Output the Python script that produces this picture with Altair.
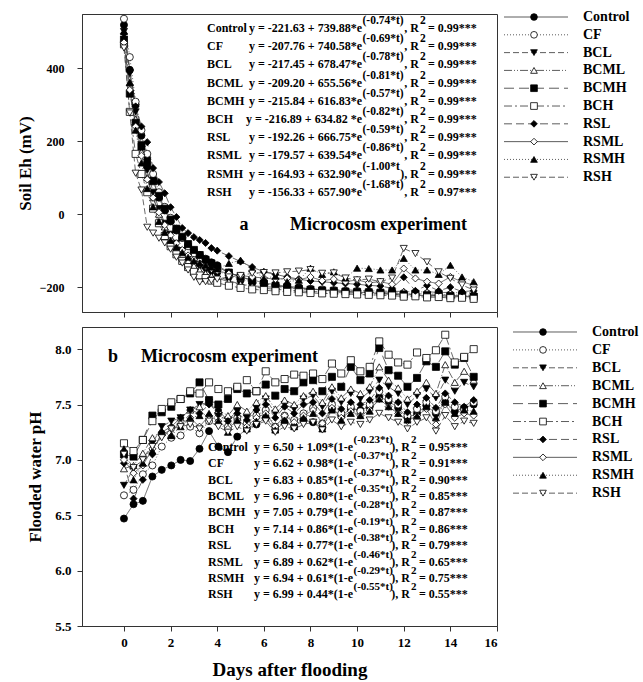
import altair as alt
import pandas as pd

FONT = "Liberation Serif"

SERIES = ["Control", "CF", "BCL", "BCML", "BCMH", "BCH", "RSL", "RSML", "RSMH", "RSH"]
SHAPES = ["circle", "circle", "triangle-down", "triangle-up", "square", "square",
          "diamond", "diamond", "triangle-up", "triangle-down"]
FILLS = ["black", "white", "black", "white", "black", "white", "black", "white", "black", "white"]
DASHES = [[1, 0], [1, 2], [6, 3], [8, 2, 1, 2, 1, 2], [10, 5], [8, 3, 2, 3],
          [8, 4], [1, 0], [1, 2], [6, 3]]

# Soil Eh sampling days
EH_DAYS = [0, 0.25, 0.5, 0.75, 1, 1.25, 1.5, 1.75, 2, 2.25, 2.5, 2.75, 3, 3.25, 3.5, 3.75, 4,
           4.5, 5, 5.5, 6, 6.5, 7, 7.5, 8, 8.5, 9, 9.5, 10, 10.5, 11, 11.5, 12, 12.5, 13,
           13.5, 14, 14.5, 15]
# Flooded water pH sampling days
PH_DAYS = [0, 0.41, 0.81, 1.22, 1.62, 2.03, 2.43, 2.84, 3.24, 3.65, 4.05, 4.46, 4.86, 5.27,
           5.68, 6.08, 6.49, 6.89, 7.3, 7.7, 8.11, 8.51, 8.92, 9.32, 9.73, 10.14, 10.54, 10.95,
           11.35, 11.76, 12.16, 12.57, 12.97, 13.38, 13.78, 14.19, 14.59, 15.0]

EH_CONTROL = [518, 395, 300, 215, 150, 95, 45, 10, -20, -45, -65, -85, -100, -112, -122, -132, -140,
              -160, -172, -180, -188, -193, -198, -200, -205, -208, -210, -212, -214, -215, -217,
              -219, -222, -220, -226, -222, -228, -225, -228]
EH_CF = [535, 430, 308, 230, 165, 110, 60, 20, -10, -40, -65, -88, -108, -122, -135, -146, -155,
         -168, -178, -186, -192, -196, -200, -203, -205, -206, -208, -210, -210, -212, -214,
         -213, -216, -218, -217, -220, -220, -222, -222]
EH_BCL = [500, 385, 280, 190, 120, 60, 15, -25, -55, -80, -100, -118, -132, -145, -155, -163, -170,
          -182, -192, -198, -203, -206, -208, -210, -212, -213, -214, -216, -216, -218, -218,
          -219, -222, -220, -224, -222, -225, -224, -226]
EH_BCML = [480, 360, 260, 170, 100, 45, 0, -35, -65, -90, -110, -128, -142, -154, -163, -170, -175,
           -185, -192, -196, -199, -200, -203, -204, -205, -207, -208, -207, -209, -210, -210,
           -212, -211, -214, -212, -215, -214, -216, -215]
EH_BCMH = [478, 330, 250, 185, 135, 90, 50, 15, -15, -40, -62, -82, -98, -112, -125, -135, -145,
           -160, -172, -182, -190, -196, -200, -204, -207, -209, -210, -212, -213, -214, -215,
           -216, -220, -218, -222, -220, -224, -223, -226]
EH_BCH = [465, 280, 165, 110, 60, 15, -25, -60, -88, -110, -128, -145, -158, -168, -175, -182, -188,
          -196, -202, -206, -208, -211, -213, -214, -216, -217, -218, -219, -220, -221, -222,
          -223, -226, -225, -228, -227, -230, -229, -232]
EH_RSL = [495, 395, 295, 240, 197, 126, 88, 57, 19, -8, -38, -52, -63, -71, -79, -93, -100,
          -115, -130, -145, -158, -165, -172, -178, -183, -185, -188, -190, -192, -195, -197,
          -203, -173, -210, -195, -210, -200, -212, -210]
EH_RSML = [470, 340, 240, 160, 95, 45, 5, -30, -58, -80, -98, -113, -125, -135, -143, -150, -155,
           -163, -168, -172, -175, -178, -176, -180, -172, -182, -178, -185, -180, -188, -185,
           -192, -149, -176, -185, -190, -172, -185, -195]
EH_RSMH = [500, 360, 230, 140, 70, 20, -20, -50, -72, -90, -105, -118, -128, -134, -140, -145, -150,
           -135, -126, -150, -176, -170, -185, -181, -148, -165, -158, -175, -148, -149, -153,
           -153, -121, -153, -153, -165, -140, -172, -185]
EH_RSH = [455, 277, 112, 66, -36, -52, -66, -79, -96, -118, -134, -153, -173, -186, -185, -182, -178,
          -172, -168, -162, -160, -161, -158, -156, -152, -162, -161, -175, -180, -178, -185,
          -175, -94, -108, -131, -158, -176, -194, -208]

PH_CONTROL = [6.47, 6.60, 6.63, 6.85, 6.91, 6.95, 7.00, 6.99, 7.10, 7.26, 7.12, 7.07, 7.21,
              7.28, 7.32, 7.38, 7.27, 7.34, 7.30, 7.36, 7.34, 7.29, 7.46, 7.40, 7.46, 7.45, 7.48,
              7.57, 7.53, 7.47, 7.38, 7.42, 7.49, 7.42, 7.52, 7.44, 7.47, 7.50]
PH_CF = [6.68, 6.73, 6.87, 6.95, 7.12, 7.20, 7.22, 7.30, 7.24, 7.35, 7.42, 7.30, 7.38,
         7.33, 7.40, 7.45, 7.30, 7.40, 7.36, 7.42, 7.47, 7.33, 7.50, 7.42, 7.48, 7.44, 7.50,
         7.62, 7.55, 7.50, 7.40, 7.46, 7.52, 7.44, 7.57, 7.48, 7.45, 7.52]
PH_BCL = [6.77, 6.92, 7.00, 7.15, 7.30, 7.35, 7.38, 7.45, 7.50, 7.52, 7.40, 7.36, 7.44,
          7.38, 7.47, 7.55, 7.42, 7.50, 7.46, 7.55, 7.58, 7.48, 7.62, 7.52, 7.60, 7.55, 7.62,
          7.72, 7.66, 7.60, 7.50, 7.58, 7.64, 7.56, 7.72, 7.62, 7.70, 7.66]
PH_BCML = [6.92, 6.95, 7.06, 7.20, 7.26, 7.22, 7.38, 7.45, 7.48, 7.52, 7.45, 7.40, 7.50,
           7.44, 7.52, 7.58, 7.46, 7.54, 7.50, 7.58, 7.62, 7.52, 7.66, 7.56, 7.64, 7.60, 7.66,
           7.84, 7.72, 7.65, 7.55, 7.62, 7.70, 7.60, 7.86, 7.70, 7.80, 7.72]
PH_BCMH = [7.05, 7.03, 7.18, 7.40, 7.43, 7.48, 7.55, 7.60, 7.70, 7.54, 7.50, 7.55, 7.64,
           7.60, 7.62, 7.68, 7.58, 7.64, 7.62, 7.70, 7.72, 7.62, 7.75, 7.66, 7.84, 7.72, 7.78,
           8.01, 7.81, 7.76, 7.66, 7.74, 7.89, 7.84, 7.98, 7.86, 7.92, 7.75]
PH_BCH = [7.15, 7.08, 7.18, 7.35, 7.46, 7.52, 7.55, 7.62, 7.60, 7.70, 7.64, 7.62, 7.66,
          7.72, 7.62, 7.80, 7.70, 7.73, 7.77, 7.76, 7.78, 7.73, 7.87, 7.78, 7.90, 7.80, 7.84,
          8.07, 7.95, 7.88, 7.86, 7.97, 7.92, 7.99, 8.13, 7.88, 7.93, 8.00]
PH_RSL = [6.97, 6.65, 6.82, 7.05, 7.25, 7.30, 7.38, 7.45, 7.42, 7.50, 7.45, 7.35, 7.42,
          7.36, 7.45, 7.50, 7.38, 7.48, 7.42, 7.50, 7.52, 7.42, 7.55, 7.46, 7.52, 7.50, 7.54,
          7.65, 7.58, 7.52, 7.43, 7.50, 7.56, 7.47, 7.60, 7.52, 7.48, 7.54]
PH_RSML = [7.00, 6.88, 6.95, 7.10, 7.22, 7.28, 7.32, 7.38, 7.30, 7.40, 7.35, 7.28, 7.36,
           7.30, 7.38, 7.42, 7.30, 7.40, 7.34, 7.40, 7.45, 7.33, 7.47, 7.38, 7.44, 7.40, 7.45,
           7.55, 7.48, 7.42, 7.35, 7.40, 7.46, 7.32, 7.50, 7.38, 7.42, 7.40]
PH_RSMH = [7.10, 6.82, 6.97, 7.08, 7.25, 7.22, 7.30, 7.38, 7.40, 7.42, 7.35, 7.25, 7.36,
           7.28, 7.35, 7.40, 7.27, 7.36, 7.30, 7.38, 7.42, 7.28, 7.45, 7.36, 7.42, 7.40, 7.44,
           7.55, 7.48, 7.42, 7.36, 7.40, 7.48, 7.38, 7.52, 7.42, 7.45, 7.44]
PH_RSH = [7.05, 6.93, 7.00, 7.12, 7.20, 7.28, 7.30, 7.32, 7.28, 7.35, 7.30, 7.25, 7.30,
          7.26, 7.32, 7.35, 7.25, 7.30, 7.28, 7.32, 7.34, 7.27, 7.36, 7.30, 7.34, 7.32, 7.36,
          7.42, 7.38, 7.34, 7.28, 7.34, 7.38, 7.26, 7.40, 7.30, 7.35, 7.33]

EH_MAIN = ["y = -221.63 + 739.88*e", "y = -207.76 + 740.58*e", "y = -217.45 + 678.47*e",
           "y = -209.20 + 655.56*e", "y = -215.84 + 616.83*e", "y = -216.89 + 634.82 *e",
           "y = -192.26 + 666.75*e", "y = -179.57 + 639.54*e", "y = -164.93 + 632.90*e",
           "y = -156.33 + 657.90*e"]
EH_EXP = ["(-0.74*t)", "(-0.69*t)", "(-0.78*t)", "(-0.81*t)", "(-0.57*t)", "(-0.82*t)",
          "(-0.59*t)", "(-0.86*t)", "(-1.00*t", "(-1.68*t)"]
EH_MID = [", R", ", R", ", R", ", R", ", R", ", R", ", R", ", R", "), R", ", R"]
EH_R2 = ["= 0.99***"] * 9 + ["= 0.97***"]

PH_MAIN = ["y = 6.50 + 1.09*(1-e", "y = 6.62 + 0.98*(1-e", "y = 6.83 + 0.85*(1-e",
           "y = 6.96 + 0.80*(1-e", "y = 7.05 + 0.79*(1-e", "y = 7.14 + 0.86*(1-e",
           "y = 6.84 + 0.77*(1-e", "y = 6.89 + 0.62*(1-e", "y = 6.94 + 0.61*(1-e",
           "y = 6.99 + 0.44*(1-e"]
PH_EXP = ["(-0.23*t)", "(-0.37*t)", "(-0.37*t)", "(-0.35*t)", "(-0.28*t)", "(-0.19*t)",
          "(-0.38*t)", "(-0.46*t)", "(-0.29*t)", "(-0.55*t)"]
PH_MID = ["), R"] * 10
PH_R2 = ["= 0.95***", "= 0.91***", "= 0.90***", "= 0.85***", "= 0.87***", "= 0.86***",
         "= 0.79***", "= 0.65***", "= 0.75***", "= 0.55***"]

EH = [EH_CONTROL, EH_CF, EH_BCL, EH_BCML, EH_BCMH, EH_BCH, EH_RSL, EH_RSML, EH_RSMH, EH_RSH]
PH = [PH_CONTROL, PH_CF, PH_BCL, PH_BCML, PH_BCMH, PH_BCH, PH_RSL, PH_RSML, PH_RSMH, PH_RSH]


def long_df(days, values):
    rows = []
    for s, vals in zip(SERIES, values):
        for t, v in zip(days, vals):
            rows.append({"series": s, "t": t, "value": v})
    return pd.DataFrame(rows)


shape_scale = alt.Scale(domain=SERIES, range=SHAPES)
fill_scale = alt.Scale(domain=SERIES, range=FILLS)
dash_scale = alt.Scale(domain=SERIES, range=DASHES)


def panel(days, values, ydom, yvals, ytitle, lab_pad, title_pad, lab_size, bottom, eq, eq_y0,
          eq_dy, eq_x, sup_size, tag, tag_x, micro_x, tag_y):
    df = long_df(days, values)
    x_enc = alt.X("t:Q", scale=alt.Scale(domain=[-1.8, 16], nice=False, zero=False),
                  axis=alt.Axis(values=list(range(0, 17, 2)), labels=bottom, format="d",
                                title="Days after flooding" if bottom else None,
                                titleFontSize=19, titlePadding=11, labelPadding=5,
                                labelFontSize=13))
    y_enc = alt.Y("value:Q", scale=alt.Scale(domain=ydom, nice=False, zero=False),
                  axis=alt.Axis(values=yvals, title=ytitle, labelPadding=lab_pad,
                                titlePadding=title_pad, labelFontSize=lab_size,
                                titleFontSize=17, format=".1f" if bottom else "d"))
    base = alt.Chart(df)
    lines = base.mark_line(strokeWidth=0.8, color="#444").encode(
        x=x_enc, y=y_enc, detail="series:N",
        strokeDash=alt.StrokeDash("series:N", scale=dash_scale, legend=None),
        order="t:Q")
    pts = base.mark_point(size=50, strokeWidth=0.8, opacity=1, filled=True).encode(
        x=x_enc, y=y_enc,
        shape=alt.Shape("series:N", scale=shape_scale, legend=None),
        fill=alt.Fill("series:N", scale=fill_scale, legend=None),
        stroke=alt.value("black"))

    eqdf = pd.DataFrame({"rank": list(range(10)), "label": SERIES, "main": eq[0],
                         "exp": eq[1], "mid": eq[2], "r2": eq[3]})
    ebase = alt.Chart(eqdf).transform_calculate(value=f"{eq_y0} - {eq_dy} * datum.rank")
    tstyle = dict(font=FONT, fontWeight="bold", baseline="middle", color="black")
    l1 = ebase.mark_text(align="left", fontSize=12, **tstyle).encode(
        x=alt.value(eq_x[0]), y=y_enc, text="label:N")
    l2 = ebase.mark_text(align="right", fontSize=12, **tstyle).encode(
        x=alt.value(eq_x[1]), y=y_enc, text="main:N")
    l3 = ebase.mark_text(align="left", dy=-7, fontSize=sup_size, **tstyle).encode(
        x=alt.value(eq_x[1] + 0.5), y=y_enc, text="exp:N")
    l4 = ebase.mark_text(align="right", fontSize=12, **tstyle).encode(
        x=alt.value(eq_x[2]), y=y_enc, text="mid:N")
    l5 = ebase.mark_text(align="left", dy=-7, fontSize=sup_size, **tstyle).encode(
        x=alt.value(eq_x[2] + 1), y=y_enc, text=alt.value("2"))
    l6 = ebase.mark_text(align="left", fontSize=12, **tstyle).encode(
        x=alt.value(eq_x[3]), y=y_enc, text="r2:N")

    one = alt.Chart(pd.DataFrame({"k": [0]}))
    bstyle = dict(font=FONT, fontWeight="bold", fontSize=18, baseline="middle", color="black")
    t1 = one.mark_text(align="center", text=tag, **bstyle).encode(x=alt.value(tag_x), y=alt.value(tag_y))
    t2 = one.mark_text(align="left", text="Microcosm experiment", **bstyle).encode(
        x=alt.value(micro_x), y=alt.value(tag_y))

    return alt.layer(lines, pts, l1, l2, l3, l4, l5, l6, t1, t2).properties(
        width=415, height=298 if not bottom else 299)


def legend(height, d0, d1, xoff):
    leg = pd.DataFrame({"series": SERIES, "rank": list(range(10))})
    yl = alt.Y("rank:Q", scale=alt.Scale(domain=[d0, d1], reverse=True, nice=False, zero=False),
               axis=None)
    c = alt.Chart(leg)
    rule = c.mark_rule(strokeWidth=0.8, color="#333").encode(
        x=alt.value(xoff), x2=alt.value(xoff + 64), y=yl,
        strokeDash=alt.StrokeDash("series:N", scale=dash_scale, legend=None))
    pts = c.mark_point(size=45, strokeWidth=0.8, opacity=1, filled=True).encode(
        x=alt.value(xoff + 30), y=yl,
        shape=alt.Shape("series:N", scale=shape_scale, legend=None),
        fill=alt.Fill("series:N", scale=fill_scale, legend=None),
        stroke=alt.value("black"))
    txt = c.mark_text(align="left", baseline="middle", font=FONT, fontWeight="bold",
                      fontSize=14, color="black").encode(x=alt.value(xoff + 79), y=yl,
                                                         text="series:N")
    return alt.layer(rule, pts, txt).properties(
        width=134, height=height, view=alt.ViewBackground(stroke="transparent"))


top = panel(EH_DAYS, EH, [-268, 548], [-200, 0, 200, 400], "Soil Eh (mV)", 13, 5, 12, False,
            (EH_MAIN, EH_EXP, EH_MID, EH_R2), 509.6, 49.86, (125, 280, 337, 346), 11.5,
            "a", 162, 208, 211)
bot = panel(PH_DAYS, PH, [5.5, 8.2], [5.5, 6.0, 6.5, 7.0, 7.5, 8.0], "Flooded water pH", 6, 10, 13,
            True, (PH_MAIN, PH_EXP, PH_MID, PH_R2), 7.117, 0.148, (126, 271, 328, 337), 11,
            "b", 31, 59, 30)

chart = alt.concat(
    top, legend(298, -0.169, 16.57, 0), bot, legend(299, -0.279, 16.42, 9),
    columns=2, spacing={"row": 15, "column": 7}, bounds="flush"
).configure(
    font=FONT, padding={"left": 15, "top": 9, "right": 0, "bottom": 0}
).configure_view(
    stroke="#333", strokeWidth=1
).configure_axis(
    labelFont=FONT, titleFont=FONT, labelFontWeight="bold", titleFontWeight="bold",
    labelColor="black", titleColor="black", domainColor="#333", tickColor="#333",
    tickSize=5, grid=False
)

chart.save("out.html", embed_options={"renderer": "svg", "actions": False})
